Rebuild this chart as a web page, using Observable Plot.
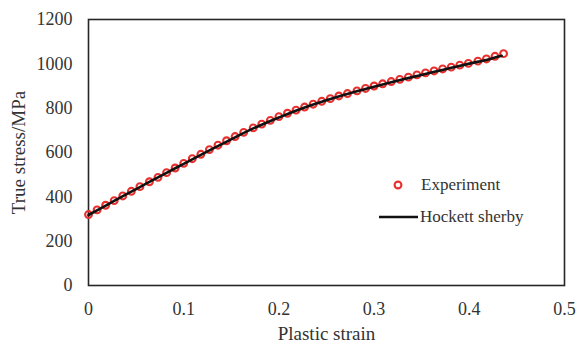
<!DOCTYPE html>
<html>
<head>
<meta charset="utf-8">
<script src="https://cdn.jsdelivr.net/npm/d3@7"></script>
<script src="https://cdn.jsdelivr.net/npm/@observablehq/plot@0.6"></script>
<style>
  html, body { margin: 0; padding: 0; background: #fff; }
  #wrap { position: relative; width: 576px; height: 345px; font-family: "Liberation Serif", "Times New Roman", serif; }
  #legend { position: absolute; left: 0; top: 0; pointer-events: none; }
  #wrap svg text { font-family: "Liberation Serif", "Times New Roman", serif; }
</style>
</head>
<body>
<div id="wrap"></div>
<script>
// Experiment data (plastic strain, true stress MPa)
const expStrain = [0, 0.009, 0.018, 0.027, 0.036, 0.045, 0.054, 0.064, 0.073, 0.082, 0.091, 0.100,
  0.109, 0.118, 0.127, 0.136, 0.145, 0.154, 0.163, 0.173, 0.182, 0.191, 0.200, 0.209, 0.218, 0.227,
  0.236, 0.245, 0.254, 0.263, 0.272, 0.282, 0.291, 0.300, 0.309, 0.318, 0.327, 0.336, 0.345, 0.354,
  0.363, 0.372, 0.381, 0.390, 0.399, 0.409, 0.418, 0.427, 0.436];
const expStress = [320, 341, 362, 383, 404, 425, 446, 468, 488, 509, 530, 551,
  572, 592, 613, 633, 653, 672, 691, 711, 728, 745, 762, 777, 791, 805,
  818, 831, 843, 855, 866, 878, 889, 900, 910, 920, 930, 940, 950, 959,
  968, 977, 985, 994, 1002, 1012, 1022, 1034, 1046];

// Hockett-Sherby fit curve
const fitStrain = [0, 0.02, 0.04, 0.06, 0.08, 0.10, 0.12, 0.14, 0.16, 0.18, 0.20, 0.22, 0.24,
  0.26, 0.28, 0.30, 0.32, 0.34, 0.36, 0.38, 0.40, 0.42, 0.434];
const fitStress = [318, 365, 412, 458, 504, 549, 594, 638, 682, 722, 758, 792, 822,
  849, 874, 897, 919, 940, 961, 981, 1001, 1020, 1036];

const xTicks = [0, 0.1, 0.2, 0.3, 0.4, 0.5];
const yTicks = [0, 200, 400, 600, 800, 1000, 1200];
const xTitle = "Plastic strain";
const yTitle = "True stress/MPa";
const legendLabels = ["Experiment", "Hockett sherby"];

const expData = expStrain.map((x, i) => ({x, y: expStress[i]}));
const fitData = fitStrain.map((x, i) => ({x, y: fitStress[i]}));

const red = "#e8302e";
const serif = "Liberation Serif";

const chart = Plot.plot({
  width: 576,
  height: 345,
  marginLeft: 88,
  marginRight: 12,
  marginTop: 19,
  marginBottom: 60,
  style: { fontFamily: serif, fontSize: "18px", color: "#333", background: "#fff" },
  x: { domain: [0, 0.5] },
  y: { domain: [0, 1200] },
  marks: [
    Plot.axisX({ ticks: xTicks, tickSize: 0, tickPadding: 17, tickFormat: d => String(d), label: null, fontSize: 18, fontFamily: serif, fill: "#333" }),
    Plot.axisY({ ticks: yTicks, tickSize: 0, tickPadding: 16, tickFormat: d => String(d), label: null, fontSize: 18, fontFamily: serif, fill: "#333" }),
    Plot.frame({ stroke: "#262626", strokeWidth: 1.6 }),
    Plot.dot(expData, { x: "x", y: "y", r: 3.4, stroke: red, strokeWidth: 2.1, fill: "none" }),
    Plot.line(fitData, { x: "x", y: "y", stroke: "#111", strokeWidth: 2.6, curve: "catmull-rom" }),
    Plot.text([xTitle], { frameAnchor: "bottom", dy: 54, fontSize: 19, fontFamily: serif, fill: "#333" }),
    Plot.text([yTitle], { frameAnchor: "left", dx: -70, rotate: -90, textAnchor: "middle", fontSize: 19, fontFamily: serif, fill: "#333" })
  ]
});

const wrap = document.getElementById("wrap");
wrap.appendChild(chart);

// Legend overlay
const ns = "http://www.w3.org/2000/svg";
const lg = document.createElementNS(ns, "svg");
lg.setAttribute("id", "legend");
lg.setAttribute("width", 576);
lg.setAttribute("height", 345);
lg.innerHTML = `
  <circle cx="398" cy="185" r="3.4" fill="none" stroke="${red}" stroke-width="2.1"></circle>
  <text x="421" y="185" dy="0.32em" font-size="17" fill="#333">${legendLabels[0]}</text>
  <line x1="379" x2="418" y1="217" y2="217" stroke="#111" stroke-width="2.6"></line>
  <text x="420" y="217" dy="0.32em" font-size="17" fill="#333">${legendLabels[1]}</text>
`;
wrap.appendChild(lg);
</script>
</body>
</html>
